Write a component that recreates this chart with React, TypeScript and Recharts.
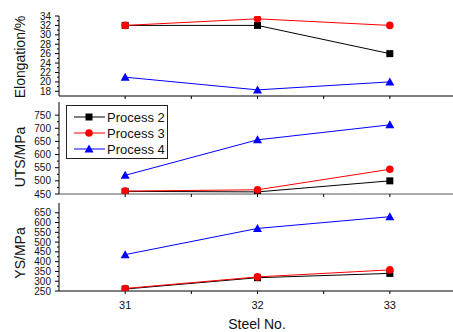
import React from "react";
import { LineChart, Line, XAxis, YAxis } from "recharts";

const steelNos = [31, 32, 33];

const elongP2 = [32, 32, 26];
const elongP3 = [32, 33.4, 32];
const elongP4 = [21, 18.3, 20];

const utsP2 = [460, 458, 500];
const utsP3 = [461, 466, 544];
const utsP4 = [521, 656, 713];

const ysP2 = [260, 318, 340];
const ysP3 = [263, 322, 358];
const ysP4 = [436, 570, 630];

const xTicks = [31, 31.5, 32, 32.5, 33];
const elongMajor = [18, 20, 22, 24, 26, 28, 30, 32, 34];
const utsMajor = [450, 500, 550, 600, 650, 700, 750];
const ysMajor = [250, 300, 350, 400, 450, 500, 550, 600, 650];

const FONT = "'Liberation Sans', Arial, sans-serif";

const makeRows = (a: number[], b: number[], c: number[]) =>
    steelNos.map((x, i) => ({ x, p2: a[i], p3: b[i], p4: c[i] }));

const withMinor = (major: number[], step: number) => {
    const out: number[] = [];
    for (let v = major[0]; v <= major[major.length - 1] + 1e-9; v += step) out.push(v);
    return out;
};

// eslint-disable-next-line @typescript-eslint/no-explicit-any
const Square = (p: any) => p.cx == null ? null : (
    <rect key={`s-${p.index}`} x={p.cx - 3.5} y={p.cy - 3.5} width={7} height={7} fill="#000" />
);
// eslint-disable-next-line @typescript-eslint/no-explicit-any
const Dot = (p: any) => p.cx == null ? null : (
    <circle key={`c-${p.index}`} cx={p.cx} cy={p.cy} r={3.8} fill="#ff0000" />
);
// eslint-disable-next-line @typescript-eslint/no-explicit-any
const Tri = (p: any) => p.cx == null ? null : (
    <polygon key={`t-${p.index}`} points={`${p.cx},${p.cy - 4.5} ${p.cx - 4.5},${p.cy + 3.5} ${p.cx + 4.5},${p.cy + 3.5}`} fill="#0000ff" />
);

// eslint-disable-next-line @typescript-eslint/no-explicit-any
const makeYTick = (major: number[]) => (p: any) => {
    const v = p.payload.value;
    const isMajor = major.includes(v);
    return (
        <g key={`yt-${v}`}>
            <line x1={p.x - (isMajor ? 4 : 2)} x2={p.x} y1={p.y} y2={p.y} stroke="#000" />
            {isMajor && (
                <text x={p.x - 8} y={p.y} dy="0.36em" textAnchor="end" fontSize={10} fontFamily={FONT} fill="#111">{v}</text>
            )}
        </g>
    );
};

// eslint-disable-next-line @typescript-eslint/no-explicit-any
const makeXTick = (labels: boolean, dir: number, color: string) => (p: any) => {
    const v = p.payload.value;
    return (
        <g key={`xt-${v}`}>
            <line x1={p.x} x2={p.x} y1={p.y - (dir === 0 ? 2 : 0)} y2={p.y + (dir === 0 ? 2 : 3)} stroke={color} />
            {labels && Number.isInteger(v) && (
                <text x={p.x} y={p.y + 14} dy="0.36em" textAnchor="middle" fontSize={11} fontFamily={FONT} fill="#111">{v}</text>
            )}
        </g>
    );
};

type PanelProps = {
    top: number;
    height: number;
    marginTop: number;
    xHeight: number;
    domain: [number, number];
    major: number[];
    step: number;
    label: string;
    labelY: number;
    rows: { x: number; p2: number; p3: number; p4: number }[];
    xLabels?: boolean;
    topBorder?: boolean;
    bottomColor?: string;
};

function Panel(props: PanelProps) {
    const { top, height, marginTop, xHeight, domain, major, step, label, labelY, rows, xLabels, topBorder, bottomColor } = props;
    return (
        <div style={{ position: "absolute", left: 0, top, width: 456, height }}>
            <LineChart width={456} height={height} data={rows} margin={{ top: marginTop, right: 0, bottom: 0, left: 0 }}>
                {topBorder && (
                    <XAxis
                        xAxisId="top"
                        orientation="top"
                        dataKey="x"
                        type="number"
                        domain={[30.5, 33.5]}
                        ticks={xTicks}
                        interval={0}
                        height={0}
                        stroke="#808080"
                        strokeWidth={1.5}
                        tickSize={0}
                        tickMargin={0}
                        tickLine={false}
                        tick={makeXTick(false, 0, "#333")}
                    />
                )}
                <XAxis
                    dataKey="x"
                    type="number"
                    domain={[30.5, 33.5]}
                    ticks={xTicks}
                    interval={0}
                    height={xHeight}
                    stroke={bottomColor || "#000"}
                    tickSize={0}
                    tickMargin={0}
                    tickLine={false}
                    tick={makeXTick(!!xLabels, 1, "#000")}
                    label={xLabels ? {
                        content: () => (
                            <text x={257} y={height - 3} textAnchor="middle" fontSize={14} fontFamily={FONT} fill="#111">Steel No.</text>
                        ),
                    } : undefined}
                />
                <YAxis
                    type="number"
                    domain={domain}
                    ticks={withMinor(major, step)}
                    interval={0}
                    width={59}
                    stroke="#000"
                    tickSize={0}
                    tickMargin={0}
                    tickLine={false}
                    tick={makeYTick(major)}
                    allowDataOverflow
                    label={{
                        content: () => (
                            <text
                                x={20}
                                y={labelY - top}
                                transform={`rotate(-90 20 ${labelY - top})`}
                                textAnchor="middle"
                                dominantBaseline="central"
                                fontSize={14}
                                fontFamily={FONT}
                                fill="#111"
                            >
                                {label}
                            </text>
                        ),
                    }}
                />
                <Line dataKey="p2" stroke="#000" strokeWidth={1} dot={Square} isAnimationActive={false} />
                <Line dataKey="p3" stroke="#ff0000" strokeWidth={1} dot={Dot} isAnimationActive={false} />
                <Line dataKey="p4" stroke="#0000ff" strokeWidth={1} dot={Tri} isAnimationActive={false} />
            </LineChart>
        </div>
    );
}

const legendItems = [
    { name: "Process 2", color: "#000", shape: "square" },
    { name: "Process 3", color: "#ff0000", shape: "circle" },
    { name: "Process 4", color: "#0000ff", shape: "triangle" },
];

function LegendBox() {
    return (
        <svg style={{ position: "absolute", left: 66, top: 105 }} width={103} height={55}>
            <rect x={0.5} y={0.5} width={101} height={53} fill="#fff" stroke="#222" />
            {legendItems.map((it, i) => {
                const cy = 12 + i * 16;
                return (
                    <g key={it.name}>
                        <line x1={8} x2={39} y1={cy} y2={cy} stroke={it.color} />
                        {it.shape === "square" && <rect x={19.5} y={cy - 3.5} width={7} height={7} fill={it.color} />}
                        {it.shape === "circle" && <circle cx={23} cy={cy} r={3.8} fill={it.color} />}
                        {it.shape === "triangle" && <polygon points={`23,${cy - 4.5} 18.5,${cy + 3.5} 27.5,${cy + 3.5}`} fill={it.color} />}
                        <text x={41} y={cy} dy="0.36em" fontSize={13} fontFamily={FONT} fill="#111">{it.name}</text>
                    </g>
                );
            })}
        </svg>
    );
}

export default function App() {
    return (
        <div style={{ position: "absolute", left: 0, top: 0, width: 453, height: 332, background: "#fff", overflow: "hidden" }}>
            <Panel
                top={0}
                height={100}
                marginTop={16}
                xHeight={4}
                domain={[17, 34]}
                major={elongMajor}
                step={1}
                label="Elongation/%"
                labelY={57}
                rows={makeRows(elongP2, elongP3, elongP4)}
                topBorder
            />
            <Panel
                top={100}
                height={100}
                marginTop={2}
                xHeight={6}
                domain={[450, 800]}
                major={utsMajor}
                step={25}
                label="UTS/MPa"
                labelY={157}
                rows={makeRows(utsP2, utsP3, utsP4)}
                bottomColor="#555"
            />
            <Panel
                top={200}
                height={132}
                marginTop={3}
                xHeight={41}
                domain={[250, 700]}
                major={ysMajor}
                step={25}
                label="YS/MPa"
                labelY={253}
                rows={makeRows(ysP2, ysP3, ysP4)}
                xLabels
            />
            <LegendBox />
        </div>
    );
}
